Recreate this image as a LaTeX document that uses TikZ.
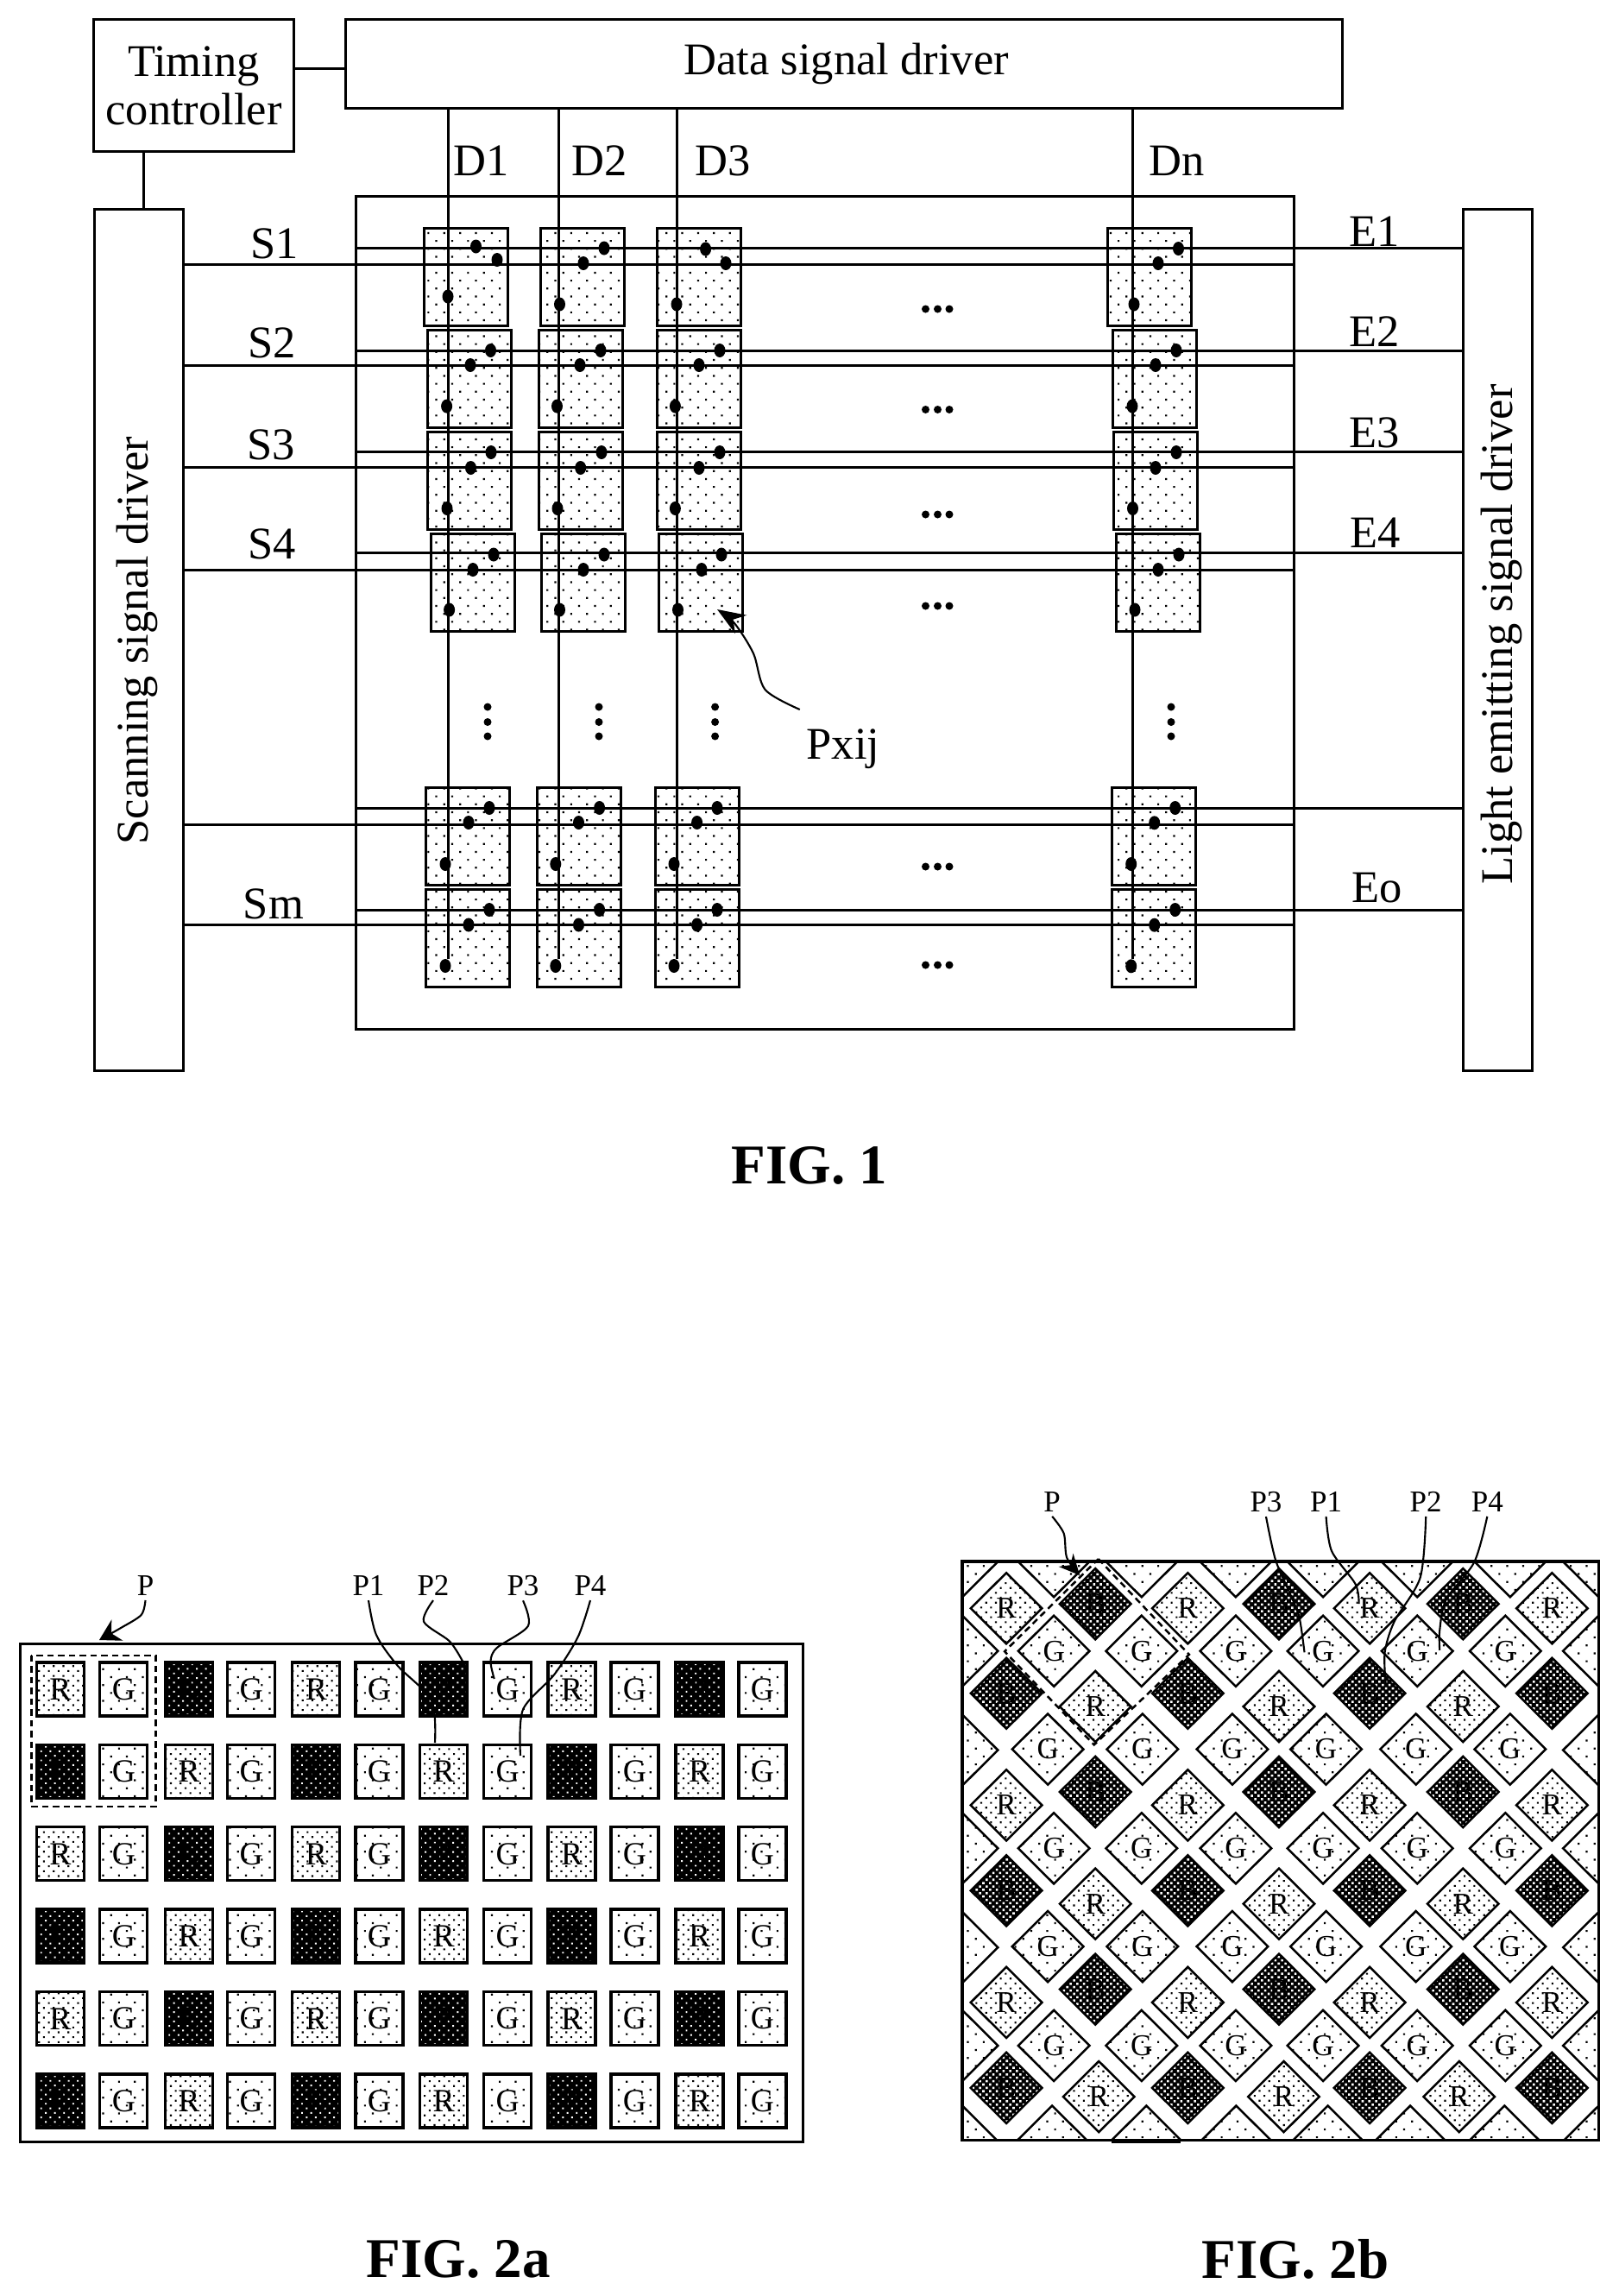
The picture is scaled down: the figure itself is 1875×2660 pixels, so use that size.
\documentclass[tikz,border=0pt]{standalone}
\usepackage{fontspec}
\setmainfont{Liberation Serif}
\usetikzlibrary{arrows.meta,patterns.meta,calc}
\tikzset{
  box/.style={draw,line width=1.2pt,inner sep=0pt,outer sep=0pt,fill=white},
  big/.style={font=\fontsize{21}{21.2}\selectfont,inner sep=0pt},
  figlab/.style={font=\bfseries\fontsize{26}{30}\selectfont,inner sep=0pt},
  smalllab/.style={font=\fontsize{14}{16}\selectfont,inner sep=2pt},
  letterA/.style={font=\fontsize{15}{16}\selectfont},
  wire/.style={line width=1.2pt},
  thin curve/.style={line width=.85pt},
  dashbox/.style={line width=1pt,dash pattern=on 3pt off 2pt},
  sparse/.style={preaction={fill=white},preaction={pattern={Dots[distance=5.2pt,angle=45,radius=.62pt]},pattern color=black},draw=black},
  medium/.style={preaction={fill=white},preaction={pattern={Dots[distance=3.2pt,angle=45,radius=.6pt]},pattern color=black},draw=black},
  darkA/.style={preaction={fill=black},preaction={pattern={Dots[distance=3pt,angle=45,radius=.55pt]},pattern color=white},draw=black},
  darkB/.style={preaction={fill=black},preaction={pattern={Dots[distance=2.2pt,angle=45,radius=.72pt]},pattern color=white},draw=black},
  pixcell/.style={sparse,line width=1.2pt,inner sep=0pt,outer sep=0pt,minimum width=38.8pt,minimum height=45.2pt},
  cellG/.style={sparse,line width=1.3pt,inner sep=0pt,outer sep=0pt,minimum width=22pt,minimum height=24.8pt,letterA},
  cellR/.style={medium,line width=1.3pt,inner sep=0pt,outer sep=0pt,minimum width=22pt,minimum height=24.8pt,letterA},
  cellB/.style={darkA,line width=1.3pt,inner sep=0pt,outer sep=0pt,minimum width=22pt,minimum height=24.8pt,letterA},
  diaG/.style={sparse,line width=1pt},
  diaR/.style={medium,line width=1pt},
  diaB/.style={darkB,line width=1pt},
}
% one pixel of FIG. 1: name, left, top, then the three junction dots
\newcommand\pxl[9]{%
  \node[pixcell] (#1) at ({#2+48.5},{#3+56.5}) {};
  \coordinate (#1e) at (#4,#5);
  \coordinate (#1s) at (#6,#7);
  \coordinate (#1d) at (#8,#9);
}
\newcommand\jdots[1]{%
  \fill (#1e) circle [x radius=6.5,y radius=8];
  \fill (#1s) circle [x radius=6.5,y radius=8];
  \fill (#1d) circle [x radius=6.5,y radius=8];
}
\newcommand\acell[4]{\node[cell#1] (#2) at (#3,#4) {#1};}
\newcommand\dia[3]{%
  \path[dia#1] (#2-82.5,#3) -- (#2,#3-80.5) -- (#2+82.5,#3) -- (#2,#3+80.5) -- cycle;
  \node[inner sep=0pt,font=\fontsize{14}{15}\selectfont] (d-#2-#3) at (#2,#3) {#1};
}
\newcommand\edgedia[2]{%
  \path[diaG] (#1-82.5,#2) -- (#1,#2-80.5) -- (#1+82.5,#2) -- (#1,#2+80.5) -- cycle;
}
\begin{document}
\begin{tikzpicture}[x=.4pt,y=-.4pt]
\path[use as bounding box,fill=white] (0,0) rectangle (1875,2660);

%%%%%% FIG. 1
\node[box,minimum width=92.4pt,minimum height=61.4pt,align=center,big,font=\fontsize{21}{22.4}\selectfont] (timing) at (224.5,99.2) {Timing\\controller};
\node[box,minimum width=462pt,minimum height=41pt,big] (data) at (978.3,73.9) {\hspace*{2pt}\raisebox{-2.8pt}{Data signal driver}};
\node[box,minimum width=41.2pt,minimum height=398.8pt] (scan) at (160.5,741.5) {};
\node[box,minimum width=32pt,minimum height=398.8pt] (light) at (1735,741.5) {};
\node[box,minimum width=434.4pt,minimum height=386pt] (panel) at (956,710.4) {};
\node[big,rotate=90] (scant) at (159,742) {Scanning signal driver};
\node[big,rotate=90] (lightt) at (1740,735) {Light emitting signal driver};

\coordinate (td) at (370,79.4);
\draw[wire] (timing.east |- td) -- (data.west |- td);
\coordinate (ts) at (166.7,200);
\draw[wire] (timing.south -| ts) -- (scan.north -| ts);

% pixels
\pxl{a1}{491.5}{264}{551.5}{285.5}{576}{301}{519}{343.5}
\pxl{a2}{626.7}{264}{700}{287.5}{676}{305}{648.5}{352.5}
\pxl{a3}{761}{264}{817.6}{288.5}{841}{305}{784}{352.5}
\pxl{a4}{1283.5}{264}{1365.5}{288}{1342}{305}{1314}{352.5}
\pxl{b1}{495}{382.7}{568.5}{406}{545}{423}{517.6}{470.6}
\pxl{b2}{624}{382.7}{696}{406}{672}{423}{645.5}{470.6}
\pxl{b3}{761}{382.7}{834}{406}{810}{423}{782.4}{470.6}
\pxl{b4}{1289.6}{382.7}{1363}{406}{1339}{423}{1312}{470.6}
\pxl{c1}{495.8}{500.5}{569}{524}{545.5}{542}{518}{589}
\pxl{c2}{624}{500.5}{697}{524}{672.7}{542}{646}{589}
\pxl{c3}{761}{500.5}{834}{524}{810}{542}{782.4}{589}
\pxl{c4}{1290}{500.5}{1363}{524}{1339}{542}{1312.5}{589}
\pxl{d1}{499}{618.5}{572}{642.5}{548}{660}{520.6}{706.5}
\pxl{d2}{627}{618.5}{700}{642.5}{676}{660}{648.5}{706.5}
\pxl{d3}{763.6}{618.5}{836}{642.5}{813}{660}{785.5}{706.5}
\pxl{d4}{1293}{618.5}{1366}{642.5}{1342}{660}{1315}{706.5}
\pxl{e1}{493.7}{912.5}{567}{936}{543}{953}{516}{1001}
\pxl{e2}{622}{912.5}{694.6}{936}{670.5}{953}{643.8}{1001}
\pxl{e3}{759}{912.5}{831}{936}{807.6}{953}{781}{1001}
\pxl{e4}{1288}{912.5}{1361.7}{936}{1337.7}{953.3}{1310.7}{1001}
\pxl{f1}{493.7}{1030.3}{567}{1054}{543}{1071.5}{516}{1119}
\pxl{f2}{622}{1030.3}{694.6}{1054}{670.5}{1071.5}{643.8}{1119}
\pxl{f3}{759}{1030.3}{831}{1054}{807.6}{1071.5}{781}{1119}
\pxl{f4}{1288}{1030.3}{1361.7}{1054}{1337.7}{1071.7}{1310.7}{1119.3}

% data lines
\foreach \n/\x in {1/519,2/647,3/784,4/1312.5}{
  \coordinate (dl\n) at (\x,1111);
  \draw[wire] (data.south -| dl\n) -- (dl\n);
}
% scan and emission lines
\foreach \n/\ye/\ys in {1/287.5/306,2/406/423,3/523/541.5,4/640.5/660,5/936/955,6/1054/1071.5}{
  \coordinate (sl\n) at (1499,\ys);
  \draw[wire] (scan.east |- sl\n) -- (sl\n);
  \coordinate (el\n) at (413,\ye);
  \draw[wire] (el\n) -- (el\n -| light.west);
}
% junctions
\foreach \c in {a1,a2,a3,a4,b1,b2,b3,b4,c1,c2,c3,c4,d1,d2,d3,d4,e1,e2,e3,e4,f1,f2,f3,f4}{\jdots{\c}}
% horizontal ellipses
\foreach \y in {358,474.5,596,702,1004,1118}{
  \foreach \x in {1072.5,1086.5,1100}{\fill (\x,\y) circle [radius=4.5];}
}
% vertical ellipses
\foreach \x in {565,694,828.6,1357}{
  \foreach \y in {819,836.5,853}{\fill (\x,\y) circle [radius=4.5];}
}
% labels
\node[big] (ls1) at (318,282) {S1};
\node[big] (ls2) at (315,397) {S2};
\node[big] (ls3) at (314,515) {S3};
\node[big] (ls4) at (315,630) {S4};
\node[big] (lsm) at (317,1047) {Sm};
\node[big] (le1) at (1592.6,268) {E1};
\node[big] (le2) at (1593,384) {E2};
\node[big] (le3) at (1592.6,501) {E3};
\node[big] (le4) at (1594,617) {E4};
\node[big] (leo) at (1596,1029) {Eo};
\node[big] (ld1) at (557.6,186) {D1};
\node[big] (ld2) at (695,186) {D2};
\node[big] (ld3) at (838,186) {D3};
\node[big] (ldn) at (1364,186) {Dn};
\node[big] (lpx) at (977,868) {Pxij};
\coordinate (pxtip) at (831,706);
\draw[thin curve,-{Stealth[length=13pt,width=10pt]}] plot[smooth] coordinates {(926.8,822) (886.6,799) (873,757) (851,722) (pxtip)};
\node[figlab] (fig1) at (938,1350) {FIG. 1};

%%%%%% FIG. 2a
\node[box,fill=none,minimum width=362.4pt,minimum height=230.8pt] (fa) at (477,2193) {};
\foreach \x [count=\i] in {42.4,115.8,191.5,263.6,338.8,412,486.7,560.6,635,708,783,856}{
  \foreach \y [count=\j] in {1926,2021.4,2116.8,2212,2307.7,2403}{
    \pgfmathtruncatemacro\k{mod(\i,2)==0 ? 0 : (mod(int((\i-1)/2)+\j,2)==1 ? 1 : 2)}
    \ifcase\k \def\typ{G}\or \def\typ{R}\or \def\typ{B}\fi
    \pgfmathsetmacro\cx{\x+27.5}
    \pgfmathsetmacro\cy{\y+31}
    \expandafter\acell\expandafter{\typ}{a-\i-\j}{\cx}{\cy}
  }
}
\draw[dashbox] (36.4,1917.9) rectangle (180.6,2092.9);
\node[smalllab] (pa) at (168.5,1837) {P};
\node[smalllab] (pa1) at (427,1837) {P1};
\node[smalllab] (pa2) at (502,1837) {P2};
\node[smalllab] (pa3) at (606,1837) {P3};
\node[smalllab] (pa4) at (684,1837) {P4};
\draw[thin curve,-{Stealth[length=9.5pt,width=11pt]}] plot[smooth] coordinates {(pa.south) (163.6,1871) (140,1886) (115,1900)};
\draw[thin curve] plot[smooth] coordinates {(pa1.south) (436,1894) (460.6,1929.6) (500,1970) (504,2019)};
\draw[thin curve] plot[smooth] coordinates {(pa2.south) (491,1878.6) (521,1901.5) (536,1924.5)};
\draw[thin curve] plot[smooth] coordinates {(pa3.south) (612,1883.7) (575.8,1909) (568.5,1924.5) (572.7,1945)};
\draw[thin curve] plot[smooth] coordinates {(pa4.south) (669.7,1896.4) (642.4,1939.8) (606,1980.6) (603,2034)};
\node[figlab] (fig2a) at (531,2617) {FIG. 2a};

%%%%%% FIG. 2b  (inner coordinates are scaled)
\begin{scope}[shift={(1090,1700)},xscale=.50063,yscale=.5102]
  \begin{scope}
    \clip (50,214) rectangle (1523,1528);
    \foreach \x in {50,262,465,683,885,1103,1318,1523}{\edgedia{\x}{214}}
    \foreach \x in {50,258,476,684,896,1087,1305,1523}{\edgedia{\x}{1530}}
    \foreach \y in {417,642,865,1090,1313}{\edgedia{50}{\y}\edgedia{1523}{\y}}
  \end{scope}
  \foreach \t/\x/\y in {
    R/152/320,B/358/310,R/572/320,B/783/310,R/993/320,B/1209/310,R/1415/320,
    G/262/417,G/465/417,G/683/417,G/885/417,G/1103/417,G/1307/417,
    B/152/513,R/358/543,B/572/513,R/783/543,B/993/513,R/1209/543,B/1415/513,
    G/248/640,G/467/640,G/675/640,G/892/640,G/1100/640,G/1318/640,
    R/152/767,B/358/737,R/572/767,B/783/737,R/993/767,B/1209/737,R/1415/767,
    G/262/865,G/465/865,G/683/865,G/885/865,G/1103/865,G/1307/865,
    B/152/961,R/358/991,B/572/961,R/783/991,B/993/961,R/1209/991,B/1415/961,
    G/248/1088,G/467/1088,G/675/1088,G/892/1088,G/1100/1088,G/1318/1088,
    R/152/1215,B/358/1185,R/572/1215,B/783/1185,R/993/1215,B/1209/1185,R/1415/1215,
    G/262/1313,G/465/1313,G/683/1313,G/885/1313,G/1103/1313,G/1307/1313,
    B/152/1409,R/366/1429,B/572/1409,R/794/1429,B/993/1409,R/1200/1429,B/1415/1409}{
    \expandafter\dia\expandafter{\t}{\x}{\y}
  }
  \draw[line width=1.4pt] (50,214) rectangle (1523,1528);
  \draw[line width=1.2pt] (395,1531) -- (555,1531);
  \draw[dashbox] (365,208) -- (575,425) -- (355,630) -- (148,418) -- cycle;
  \node[smalllab] (pb) at (258,78) {P};
  \node[smalllab] (pb3) at (753,78) {P3};
  \node[smalllab] (pb1) at (892,78) {P1};
  \node[smalllab] (pb2) at (1123,78) {P2};
  \node[smalllab] (pb4) at (1265,78) {P4};
  \draw[thin curve,-{Stealth[length=9.5pt,width=9pt]}] plot[smooth] coordinates {(pb.south) (285,150) (292,205) (322,245)};
  \draw[thin curve] plot[smooth] coordinates {(pb3.south) (775,210) (810,290) (830,340) (842,420)};
  \draw[thin curve] plot[smooth] coordinates {(pb1.south) (905,190) (960,265) (968,310)};
  \draw[thin curve] plot[smooth] coordinates {(pb2.south) (1110,250) (1050,350) (1028,420) (1030,490)};
  \draw[thin curve] plot[smooth] coordinates {(pb4.south) (1235,215) (1170,300) (1155,370) (1155,415)};
\end{scope}
\node[figlab] (fig2b) at (1501,2617) {FIG. 2b};
\end{tikzpicture}
\end{document}
